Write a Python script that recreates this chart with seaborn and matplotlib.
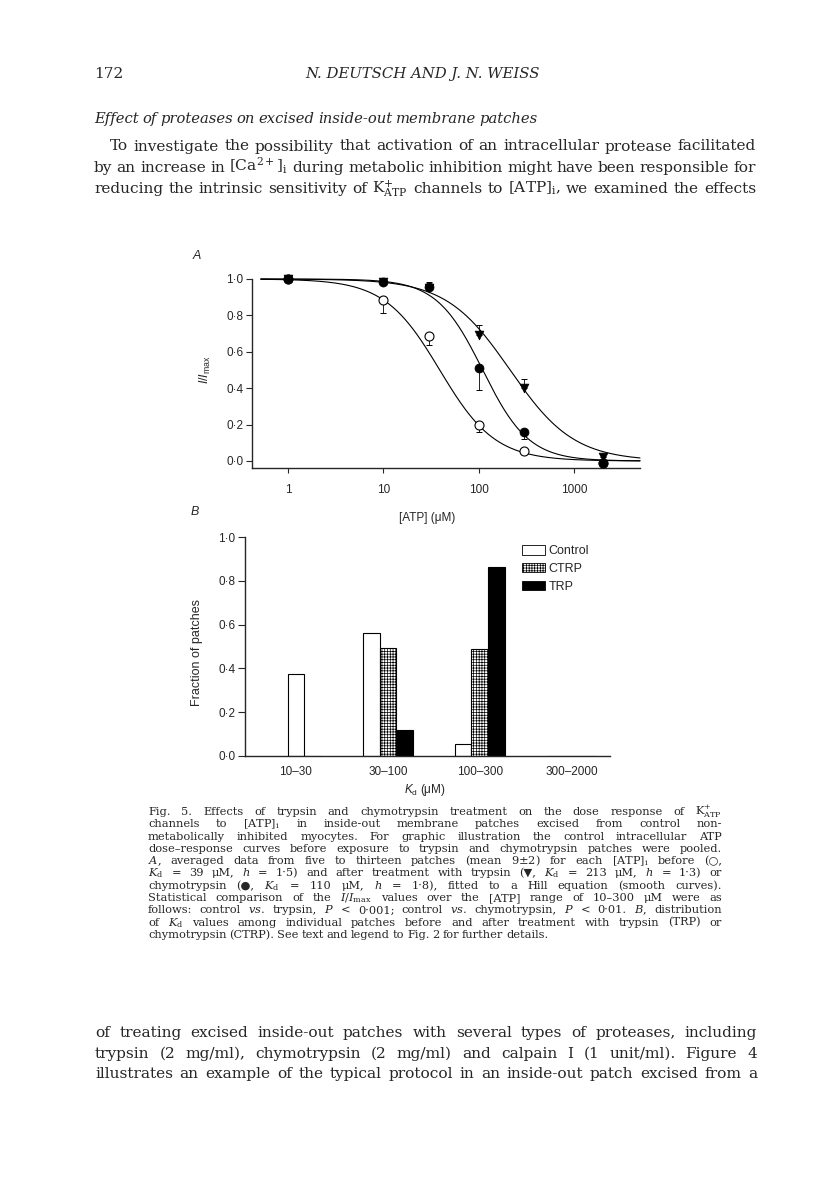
import numpy as np
import pandas as pd
import matplotlib
matplotlib.use("Agg")
import matplotlib.pyplot as plt
import seaborn as sns
from matplotlib.patches import Patch
from matplotlib.ticker import NullLocator

# ---------------- Panel A data ----------------
atp_um = [1, 10, 30, 100, 300, 2000]
control_mean = [1.0, 0.885, 0.685, 0.200, 0.055, -0.010]
control_err_down = [0.0, 0.070, 0.045, 0.040, 0.0, 0.0]
chymo_mean = [1.0, 0.985, 0.955, 0.510, 0.160, -0.010]
chymo_err_down = [0.0, 0.0, 0.0, 0.120, 0.040, 0.0]
trypsin_mean = [1.0, 0.985, 0.950, 0.695, 0.400, 0.020]
trypsin_err_up = [0.0, 0.0, 0.035, 0.050, 0.050, 0.015]
# Hill-equation fits stated in the legend: control, trypsin, chymotrypsin
hill_kd = [39, 213, 110]
hill_h = [1.5, 1.3, 1.8]
y_ticks_a = [0.0, 0.2, 0.4, 0.6, 0.8, 1.0]
x_ticks_a = [1, 10, 100, 1000]

# ---------------- Panel B data ----------------
kd_ranges = ["10–30", "30–100", "100–300", "300–2000"]
frac_control = [0.375, 0.560, 0.055, 0.0]
frac_ctrp = [0.0, 0.495, 0.490, 0.0]
frac_trp = [0.0, 0.120, 0.865, 0.0]
groups_b = ["Control", "CTRP", "TRP"]
y_ticks_b = [0.0, 0.2, 0.4, 0.6, 0.8, 1.0]

# ---------------- style ----------------
sns.set_style("ticks")
plt.rcParams["font.family"] = ["Liberation Sans", "DejaVu Sans"]
plt.rcParams["mathtext.fontset"] = "custom"
plt.rcParams["mathtext.rm"] = "Liberation Sans"
plt.rcParams["mathtext.it"] = "Liberation Sans:italic"
plt.rcParams["mathtext.bf"] = "Liberation Sans:bold"
plt.rcParams["hatch.linewidth"] = 0.5
plt.rcParams["axes.linewidth"] = 1.0

W, H = 816, 1204
fig = plt.figure(figsize=(W / 100, H / 100), dpi=100)
fig.patch.set_facecolor("white")


def rect(l, t, r, b):
    return [l / W, 1 - b / H, (r - l) / W, (b - t) / H]


def dot(v):
    return f"{v:.1f}".replace(".", "·")


# ================= Panel A =================
axA = fig.add_axes(rect(252, 279, 640, 468))
axA.set_xscale("log")
axA.set_xlim(0.42, 4900)
axA.set_ylim(-0.0385, 1.0)

xs = np.logspace(np.log10(0.52), np.log10(4900), 400)
for kd, h in zip(hill_kd, hill_h):
    sns.lineplot(x=xs, y=1.0 / (1.0 + (xs / kd) ** h), ax=axA, color="black",
                 lw=0.8, clip_on=False, sort=False, estimator=None, zorder=2)

atp = np.array(atp_um, dtype=float)


def err(ax, mean, down, up):
    mean = np.array(mean); down = np.array(down); up = np.array(up)
    m = (down > 0) | (up > 0)
    ax.errorbar(atp[m], mean[m], yerr=[down[m], up[m]], fmt="none", ecolor="black",
                elinewidth=0.6, capsize=2.5, capthick=0.7, zorder=1, clip_on=False)


err(axA, control_mean, control_err_down, np.zeros(6))
err(axA, chymo_mean, chymo_err_down, np.zeros(6))
err(axA, trypsin_mean, np.zeros(6), trypsin_err_up)

sns.scatterplot(x=atp_um, y=control_mean, ax=axA, marker="o", s=42, facecolor="white",
                edgecolor="black", linewidth=0.8, zorder=3, clip_on=False)
sns.scatterplot(x=atp_um, y=trypsin_mean, ax=axA, marker="v", s=40, color="black",
                edgecolor="black", linewidth=0.5, zorder=4, clip_on=False)
sns.scatterplot(x=atp_um, y=chymo_mean, ax=axA, marker="o", s=42, color="black",
                edgecolor="black", linewidth=0.5, zorder=5, clip_on=False)

axA.set_yticks(y_ticks_a, labels=[dot(v) for v in y_ticks_a])
axA.set_xticks(x_ticks_a, labels=[str(v) for v in x_ticks_a])
axA.xaxis.set_minor_locator(NullLocator())
axA.tick_params(axis="y", direction="out", length=4, width=0.8, pad=2, labelsize=8.5)
axA.tick_params(axis="x", direction="out", length=3.5, width=0.8, pad=8, labelsize=8.5)
sns.despine(ax=axA)
axA.set_xlabel("[ATP] (μM)", fontsize=8.5)
axA.xaxis.set_label_coords((427 - 252) / 388, (468 - 518) / 189)
axA.xaxis.label.set_va("center")
axA.set_ylabel(r"$I/I_{\mathrm{max}}$", fontsize=9)
axA.yaxis.set_label_coords((205 - 252) / 388, (468 - 370) / 189)
axA.yaxis.label.set_va("center")

# ================= Panel B =================
axB = fig.add_axes(rect(245, 537, 610, 756))
vals = {"Control": frac_control, "CTRP": frac_ctrp, "TRP": frac_trp}
rows = []
solo = []
for i, r in enumerate(kd_ranges):
    only_control = frac_control[i] > 0 and frac_ctrp[i] == 0 and frac_trp[i] == 0
    if only_control:
        solo.append((r, frac_control[i]))
    for g in groups_b:
        if only_control and g == "Control":
            continue
        rows.append({"range": r, "group": g, "frac": vals[g][i]})
df = pd.DataFrame(rows)
pal = {"Control": "white", "CTRP": "white", "TRP": "black"}
sns.barplot(data=df, x="range", y="frac", hue="group", order=kd_ranges, hue_order=groups_b,
            palette=pal, width=0.54, edgecolor="black", linewidth=0.8, errorbar=None,
            saturation=1, legend=False, ax=axB)
for bar in axB.containers[1]:
    bar.set_hatch("++++++")
if solo:
    sdf = pd.DataFrame(solo, columns=["range", "frac"])
    sns.barplot(data=sdf, x="range", y="frac", order=kd_ranges, width=0.18, color="white",
                edgecolor="black", linewidth=0.8, errorbar=None, saturation=1, ax=axB)

axB.set_xlim(-0.554, 3.418)
axB.set_ylim(0, 1.0)
axB.set_yticks(y_ticks_b, labels=[dot(v) for v in y_ticks_b])
axB.tick_params(axis="y", direction="out", length=5, width=0.8, pad=2, labelsize=8.5)
axB.tick_params(axis="x", length=0, pad=7, labelsize=8.5)
sns.despine(ax=axB)
axB.set_xlabel(r"$K_{\mathrm{d}}$ (μM)", fontsize=8.5)
axB.xaxis.set_label_coords((425 - 245) / 365, (756 - 790) / 219)
axB.xaxis.label.set_va("center")
axB.set_ylabel("Fraction of patches", fontsize=9)
axB.yaxis.set_label_coords((197 - 245) / 365, (756 - 653) / 219)
axB.yaxis.label.set_va("center")

handles = [Patch(facecolor="white", edgecolor="black", linewidth=0.6, label="Control"),
           Patch(facecolor="white", edgecolor="black", linewidth=0.6, hatch="++++++", label="CTRP"),
           Patch(facecolor="black", edgecolor="black", linewidth=0.6, label="TRP")]
fig.legend(handles=handles, loc="upper left", bbox_to_anchor=(522 / W, 1 - 545 / H),
           frameon=False, borderpad=0, borderaxespad=0, handlelength=1.8, handleheight=0.8,
           handletextpad=0.3, labelspacing=0.45, fontsize=9)

# panel letters
fig.text(197 / W, 1 - 256 / H, "A", fontsize=9, style="italic", ha="center", va="center")
fig.text(195 / W, 1 - 512 / H, "B", fontsize=9, style="italic", ha="center", va="center")

# ================= page text =================
renderer = fig.canvas.get_renderer()
SPACE = 0.25  # natural word space, in em


def measure(words, fs, kw):
    ts = [fig.text(0, 0, w, fontsize=fs, va="baseline", ha="left", **kw) for w in words]
    ws = [t.get_window_extent(renderer).width for t in ts]
    for t in ts:
        t.remove()
    return ws


def fit_size(lines, fs0, kw, min_space=SPACE):
    """Largest font size for which every justified line fits with at least min_space gaps."""
    best = None
    for ln, x0, x1 in lines:
        words = ln.split(" ")
        ws = measure(words, fs0, kw)
        nat = sum(ws) + (len(words) - 1) * min_space * fs0 * 100 / 72
        f = fs0 * (x1 - x0) / nat
        best = f if best is None else min(best, f)
    return best


def place_line(line, x0, x1, ybase, justify, fs, **kw):
    words = line.split(" ")
    ts = [fig.text(0, 1 - ybase / H, w, fontsize=fs, va="baseline", ha="left", **kw)
          for w in words]
    ws = [t.get_window_extent(renderer).width for t in ts]
    if justify and len(words) > 1:
        gap = (x1 - x0 - sum(ws)) / (len(words) - 1)
    else:
        gap = SPACE * fs * 100 / 72
    x = x0
    for t, w in zip(ts, ws):
        t.set_x(x / W)
        x += w + gap


body = dict(family=["DejaVu Serif", "DejaVu Sans"], math_fontfamily="dejavuserif")
body_it = dict(family=["DejaVu Serif", "DejaVu Sans"], style="italic", math_fontfamily="dejavuserif")

para1 = [
    ("To investigate the possibility that activation of an intracellular protease facilitated", 110),
    (r"by an increase in [Ca$^{2+}$]$_{\mathrm{i}}$ during metabolic inhibition might have been responsible for", 94),
    (r"reducing the intrinsic sensitivity of K$^{+}_{\mathrm{ATP}}$ channels to [ATP]$_{\mathrm{i}}$, we examined the effects", 94),
]
para2 = [
    "of treating excised inside-out patches with several types of proteases, including",
    "trypsin (2 mg/ml), chymotrypsin (2 mg/ml) and calpain I (1 unit/ml). Figure 4",
    "illustrates an example of the typical protocol in an inside-out patch excised from a",
]
fs_body = fit_size([(l, x0, 756) for l, x0 in para1] + [(l, 95, 757) for l in para2], 10, body)

# running head
fig.text(94 / W, 1 - 78 / H, "172", fontsize=fs_body, va="baseline", ha="left", **body)
fig.text(423 / W, 1 - 78 / H, "N. DEUTSCH AND J. N. WEISS", fontsize=fs_body * 0.97,
         va="baseline", ha="center", **body_it)

sub = "Effect of proteases on excised inside-out membrane patches"
fs_sub = fit_size([(sub, 94, 538)], 10, body_it)
place_line(sub, 94, 538, 123, True, fs_sub, **body_it)

for i, (ln, x0) in enumerate(para1):
    place_line(ln, x0, 756, 150.5 + i * 21.2, True, fs_body, **body)
for i, ln in enumerate(para2):
    place_line(ln, 95, 757, 1037 + i * 20.7, True, fs_body, **body)

cap = dict(family=["DejaVu Serif", "DejaVu Sans"], math_fontfamily="dejavuserif")
caption = [
    r"Fig. 5. Effects of trypsin and chymotrypsin treatment on the dose response of K$^{+}_{\mathrm{ATP}}$",
    r"channels to [ATP]$_{\mathrm{i}}$ in inside-out membrane patches excised from control non-",
    r"metabolically inhibited myocytes. For graphic illustration the control intracellular ATP",
    r"dose–response curves before exposure to trypsin and chymotrypsin patches were pooled.",
    r"$A$, averaged data from five to thirteen patches (mean 9$\pm$2) for each [ATP]$_{\mathrm{i}}$ before (○,",
    r"$K_{\mathrm{d}}$ = 39 μM, $h$ = 1·5) and after treatment with trypsin (▼, $K_{\mathrm{d}}$ = 213 μM, $h$ = 1·3) or",
    r"chymotrypsin (●, $K_{\mathrm{d}}$ = 110 μM, $h$ = 1·8), fitted to a Hill equation (smooth curves).",
    r"Statistical comparison of the $I/I_{\mathrm{max}}$ values over the [ATP] range of 10–300 μM were as",
    r"follows: control $\mathit{vs}$. trypsin, $P$ < 0·001; control $\mathit{vs}$. chymotrypsin, $P$ < 0·01. $B$, distribution",
    r"of $K_{\mathrm{d}}$ values among individual patches before and after treatment with trypsin (TRP) or",
    r"chymotrypsin (CTRP). See text and legend to Fig. 2 for further details.",
]
fs_cap = min(8.2, fit_size([(l, 148, 722) for l in caption[:-1]], 8, cap, min_space=0.22))
for i, ln in enumerate(caption):
    place_line(ln, 148, 722, 815 + i * 12.3, i < len(caption) - 1, fs_cap, **cap)

fig.savefig("out.png", dpi=100, facecolor="white")
